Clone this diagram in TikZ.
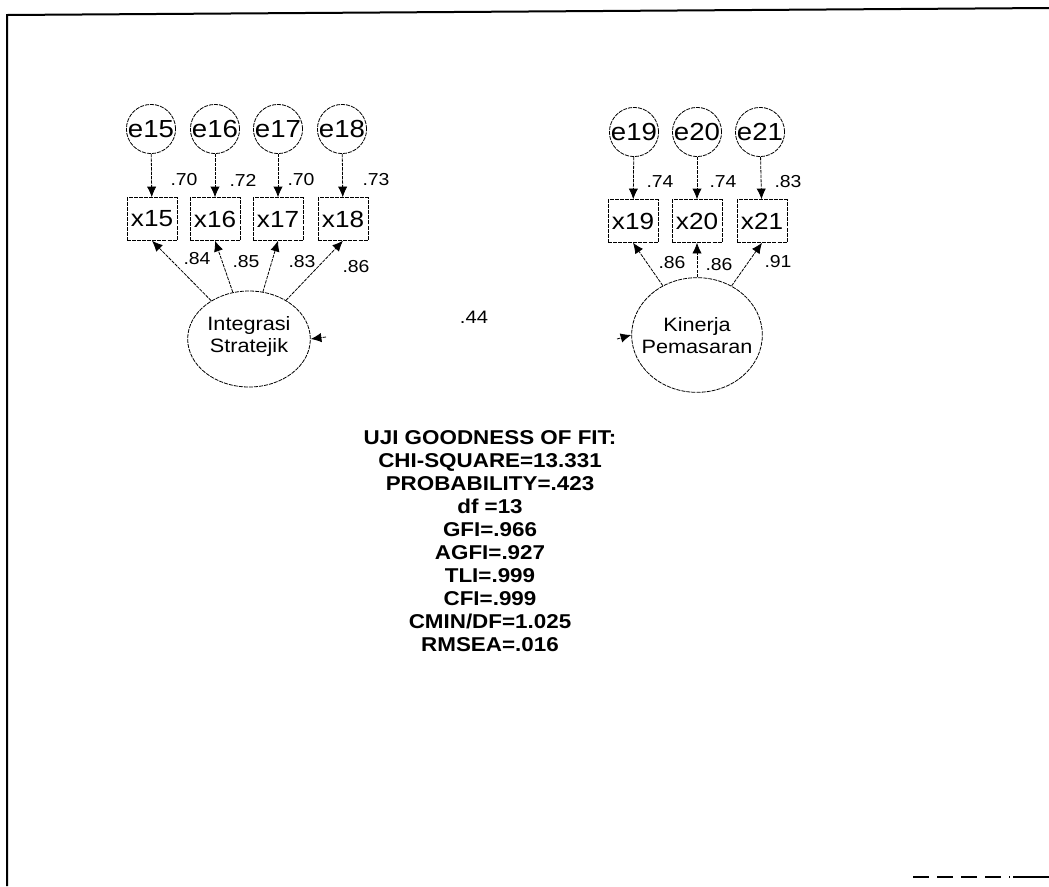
\documentclass[tikz,border=0pt]{standalone}
\usepackage{fontspec}
\setmainfont{Liberation Sans}[FakeStretch=1.12]
\usetikzlibrary{arrows.meta,shapes.geometric}
\begin{document}
\begin{tikzpicture}[x=0.75pt,y=-0.75pt,
  errc/.style={circle,draw,line width=0.6pt,dash pattern=on 3pt off 0.8pt,minimum size=35pt,inner sep=0pt,font=\fontsize{18.5}{18.5}\selectfont},
  obsbox/.style={rectangle,draw,line width=0.6pt,dash pattern=on 3pt off 0.8pt,minimum width=37.5pt,minimum height=32pt,inner sep=0pt,font=\fontsize{17.5}{17.5}\selectfont},
  latent/.style={ellipse,draw,line width=0.6pt,dash pattern=on 3pt off 0.8pt,inner sep=0pt},
  lattext/.style={inner sep=0pt,align=center,font=\fontsize{14.5}{16.5}\selectfont},
  coef/.style={inner sep=0pt,font=\fontsize{13}{13}\selectfont},
  path/.style={line width=0.6pt,dash pattern=on 2.5pt off 0.8pt,-{Latex[length=8pt,width=7pt]}},
  frame/.style={line width=1.5pt}
]
\useasboundingbox (0,0) rectangle (1049,886);
% frame
\coordinate (fl) at (7,15);
\coordinate (fr) at (1049,8);
\coordinate (fb) at (7,886);
\draw[frame] (fb) -- (fl) -- (fr);
\coordinate (b1) at (913,877);
\coordinate (b2) at (1010,877);
\coordinate (b3) at (1013,877);
\coordinate (b4) at (1049,877);
\draw[line width=1pt,dash pattern=on 12pt off 6pt] (b1) -- (b2);
\draw[line width=1.3pt] (b3) -- (b4);

% left block
\foreach \n/\x in {15/151,16/215,17/278,18/342}{
  \node[errc] (e\n) at (\x,129) {e\n};
}
\foreach \n/\x in {15/152,16/215,17/278,18/343}{
  \node[obsbox] (x\n) at (\x,219) {x\n};
}
\foreach \n in {15,16,17,18}{
  \draw[path] (e\n) -- (x\n);
}
\node[latent,minimum width=92pt,minimum height=72pt] (IS) at (249,339) {};
\node[lattext] (ISt) at (249,336) {Integrasi\\Stratejik};
\draw[path] (IS) -- (x15.south);
\draw[path] (IS) -- (x16.south);
\draw[path] (IS) -- (x17.south);
\draw[path] (IS) -- (x18.south);
\coordinate (isr) at (326,337);
\draw[path] (isr) -- (IS.east);

\node[coef] (c70a) at (184,180) {.70};
\node[coef] (c72) at (243,180) {.72};
\node[coef] (c70b) at (301,180) {.70};
\node[coef] (c73) at (376,180) {.73};
\node[coef] (c84) at (197,259) {.84};
\node[coef] (c85) at (246,262) {.85};
\node[coef] (c83) at (302,262) {.83};
\node[coef] (c86a) at (356,267) {.86};

% right block
\foreach \n/\x in {19/634,20/697,21/760}{
  \node[errc] (e\n) at (\x,132) {e\n};
}
\foreach \n/\x in {19/633,20/697,21/762}{
  \node[obsbox] (x\n) at (\x,221) {x\n};
}
\foreach \n in {19,20,21}{
  \draw[path] (e\n) -- (x\n);
}
\node[latent,minimum width=98pt,minimum height=86pt] (KP) at (697,335) {};
\node[lattext] (KPt) at (697,336) {Kinerja\\Pemasaran};
\draw[path] (KP) -- (x19.south);
\draw[path] (KP) -- (x20.south);
\draw[path] (KP) -- (x21.south);
\coordinate (kpl) at (617,339);
\draw[path] (kpl) -- (KP.west);

\node[coef] (c74a) at (660,182) {.74};
\node[coef] (c74b) at (723,182) {.74};
\node[coef] (c83b) at (788,182) {.83};
\node[coef] (c86b) at (672,263) {.86};
\node[coef] (c86c) at (719,265) {.86};
\node[coef] (c91) at (778,262) {.91};

\node[coef,font=\fontsize{13.5}{13.5}\selectfont] (r44) at (474,317) {.44};

% fit statistics
\node[align=center,inner sep=0pt,anchor=north,font=\fontsize{15}{17.25}\selectfont\bfseries] (fit) at (490,430) {UJI GOODNESS OF FIT:\\CHI-SQUARE=13.331\\PROBABILITY=.423\\df =13\\GFI=.966\\AGFI=.927\\TLI=.999\\CFI=.999\\CMIN/DF=1.025\\RMSEA=.016};
\end{tikzpicture}
\end{document}
